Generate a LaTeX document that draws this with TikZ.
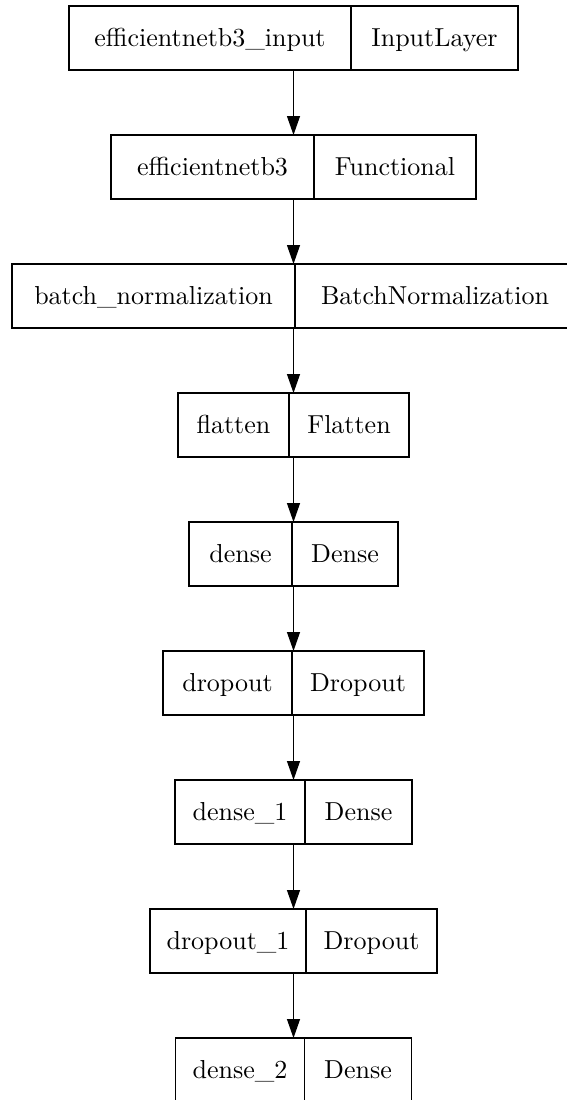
\documentclass[tikz,border=0pt]{standalone}
\usepackage{fontspec}
\usepackage{tikz}
\usetikzlibrary{positioning,arrows.meta}
\newfontfamily\cellfont{lmroman10-regular.otf}

\begin{document}
\begin{tikzpicture}[x=1pt, y=-1pt, line width=1.3pt, node distance=65pt,
    layer/.style={rectangle, inner sep=0pt, outer sep=0pt, minimum height=64pt},
    cell/.style={layer, draw, font=\cellfont\fontsize{26}{30}\selectfont, text height=20pt, text depth=3pt},
    flow/.style={-{Triangle[length=19pt,width=13pt]}}]
        \clip (0,0) rectangle (567,1100);

        \node[layer, minimum width=449pt] (A) at (293.5,38) {};
        \node[layer, minimum width=365pt] (B) [below=of A] {};
        \node[layer, minimum width=563pt] (C) [below=of B] {};
        \node[layer, minimum width=231pt] (D) [below=of C] {};
        \node[layer, minimum width=209pt] (E) [below=of D] {};
        \node[layer, minimum width=261pt] (F) [below=of E] {};
        \node[layer, minimum width=237pt] (G) [below=of F] {};
        \node[layer, minimum width=287pt] (H) [below=of G] {};
        \node[layer, minimum width=236pt] (I) [below=of H] {};

        \node[cell, minimum width=282pt, anchor=north west] (A1) at (A.north west) {efficientnetb3\_input};
        \node[cell, minimum width=167pt, right=0pt of A1] (A2) {InputLayer};
        \node[cell, minimum width=203pt, anchor=north west] (B1) at (B.north west) {efficientnetb3};
        \node[cell, minimum width=162pt, right=0pt of B1] (B2) {Functional};
        \node[cell, minimum width=283pt, anchor=north west] (C1) at (C.north west) {batch\_normalization};
        \node[cell, minimum width=280pt, right=0pt of C1] (C2) {BatchNormalization};
        \node[cell, minimum width=111pt, anchor=north west] (D1) at (D.north west) {flatten};
        \node[cell, minimum width=120pt, right=0pt of D1] (D2) {Flatten};
        \node[cell, minimum width=103pt, anchor=north west] (E1) at (E.north west) {dense};
        \node[cell, minimum width=106pt, right=0pt of E1] (E2) {Dense};
        \node[cell, minimum width=129pt, anchor=north west] (F1) at (F.north west) {dropout};
        \node[cell, minimum width=132pt, right=0pt of F1] (F2) {Dropout};
        \node[cell, minimum width=130pt, anchor=north west] (G1) at (G.north west) {dense\_1};
        \node[cell, minimum width=107pt, right=0pt of G1] (G2) {Dense};
        \node[cell, minimum width=156pt, anchor=north west] (H1) at (H.north west) {dropout\_1};
        \node[cell, minimum width=131pt, right=0pt of H1] (H2) {Dropout};
        \node[cell, minimum width=129pt, anchor=north west] (I1) at (I.north west) {dense\_2};
        \node[cell, minimum width=107pt, right=0pt of I1] (I2) {Dense};

        \path[flow]
          (A) edge (B)
          (B) edge (C)
          (C) edge (D)
          (D) edge (E)
          (E) edge (F)
          (F) edge (G)
          (G) edge (H)
          (H) edge (I);
\end{tikzpicture}
\end{document}
